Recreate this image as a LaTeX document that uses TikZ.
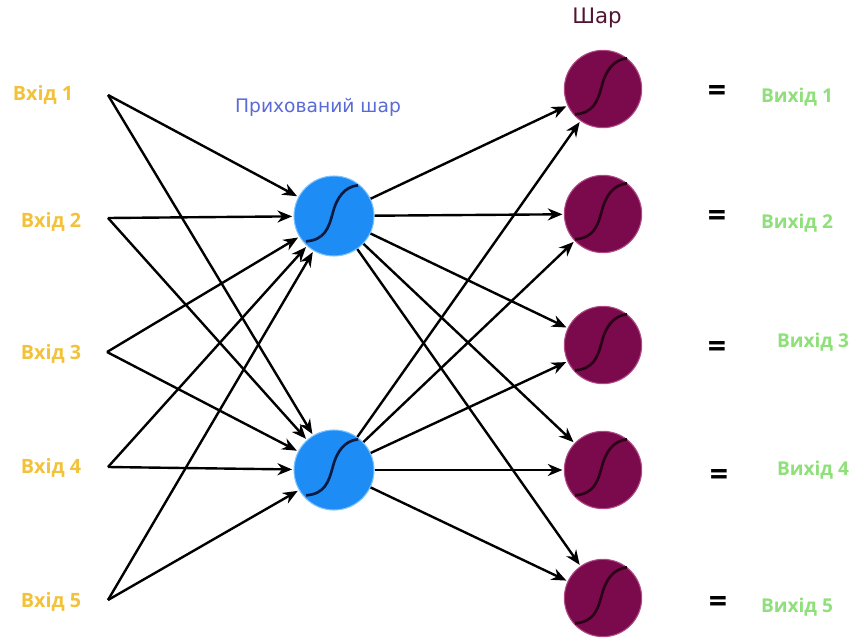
\documentclass[tikz,border=0pt]{standalone}
\usepackage{fontspec}
\setmainfont{Open Sans}
\newfontfamily\djv{DejaVu Sans}
\usetikzlibrary{arrows.meta,calc}
\definecolor{inyel}{HTML}{F2C23A}
\definecolor{outgrn}{HTML}{8FE07A}
\definecolor{hidblue}{HTML}{1E8CF5}
\definecolor{hidring}{HTML}{7CC4FF}
\definecolor{outmar}{HTML}{7A0A4C}
\definecolor{outring}{HTML}{B04A86}
\definecolor{hidtxt}{HTML}{5A6AD6}
\definecolor{layertxt}{HTML}{501434}
\definecolor{curvehid}{HTML}{0A1A40}
\definecolor{curveout}{HTML}{2A0018}
\tikzset{
  inlabel/.style={text=inyel, font=\bfseries\fontsize{14.8}{16}\selectfont, inner sep=0pt},
  outlabel/.style={text=outgrn, font=\bfseries\fontsize{14.3}{16}\selectfont, inner sep=0pt},
  eqlabel/.style={font=\bfseries\fontsize{24}{26}\selectfont, inner sep=0pt},
  hidnode/.style={circle, fill=hidblue, draw=hidring, line width=0.8pt, minimum size=60pt, inner sep=0pt},
  outnode/.style={circle, fill=outmar, draw=outring, line width=0.8pt, minimum size=58pt, inner sep=0pt},
  conn/.style={-{Stealth[length=11pt,width=9pt]}, line width=1.8pt, black, shorten >=1pt},
}
\newcommand{\sigcurve}[2]{%
  \draw[#2, line width=2pt] ($(#1)+(-21pt,-19pt)$) .. controls ($(#1)+(-7pt,-18pt)$) and ($(#1)+(-4pt,-9pt)$) .. ($(#1)+(-1pt,2pt)$) .. controls ($(#1)+(2pt,14pt)$) and ($(#1)+(8pt,22pt)$) .. ($(#1)+(18pt,23pt)$);}
\begin{document}
\begin{tikzpicture}[x=0.75pt,y=-0.75pt]
\useasboundingbox (0,0) rectangle (853,639);
% input labels
\node[inlabel] (l1) at (43,95) {Вхід 1};
\node[inlabel] (l2) at (51,222) {Вхід 2};
\node[inlabel] (l3) at (51,354) {Вхід 3};
\node[inlabel] (l4) at (51,468) {Вхід 4};
\node[inlabel] (l5) at (51,602) {Вхід 5};
% input points
\coordinate (i1) at (108,95);
\coordinate (i2) at (108,218);
\coordinate (i3) at (107,352);
\coordinate (i4) at (108,467);
\coordinate (i5) at (108,600);
% hidden
\node[hidnode] (h1) at (334,216) {};
\node[hidnode] (h2) at (334,470) {};
\node[text=hidtxt, font=\djv\fontsize{14}{16}\selectfont] (ht) at (318,107) {Прихований шар};
% outputs
\node[outnode] (o1) at (603,89) {};
\node[outnode] (o2) at (603,214) {};
\node[outnode] (o3) at (603,345) {};
\node[outnode] (o4) at (603,470) {};
\node[outnode] (o5) at (603,598) {};
\node[text=layertxt, font=\djv\fontsize{16}{18}\selectfont] (lt) at (597,18) {Шар};
% curves
\sigcurve{h1}{curvehid}
\sigcurve{h2}{curvehid}
\sigcurve{o1}{curveout}
\sigcurve{o2}{curveout}
\sigcurve{o3}{curveout}
\sigcurve{o4}{curveout}
\sigcurve{o5}{curveout}
% equals and outputs
\node[eqlabel] (e1) at (717,93) {=};
\node[eqlabel] (e2) at (717,218) {=};
\node[eqlabel] (e3) at (717,349) {=};
\node[eqlabel] (e4) at (719,477) {=};
\node[eqlabel] (e5) at (718,604) {=};
\node[outlabel] (r1) at (797,97) {Вихід 1};
\node[outlabel] (r2) at (797,223) {Вихід 2};
\node[outlabel] (r3) at (813,342) {Вихід 3};
\node[outlabel] (r4) at (813,470) {Вихід 4};
\node[outlabel] (r5) at (797,607) {Вихід 5};
% connections input -> hidden
\foreach \i in {i1,i2,i3,i4,i5}{
  \draw[conn] (\i) -- (h1);
  \draw[conn] (\i) -- (h2);
}
% hidden -> output
\foreach \h in {h1,h2}{
  \foreach \o in {o1,o2,o3,o4,o5}{
    \draw[conn] (\h) -- (\o);
  }
}
\end{tikzpicture}
\end{document}
